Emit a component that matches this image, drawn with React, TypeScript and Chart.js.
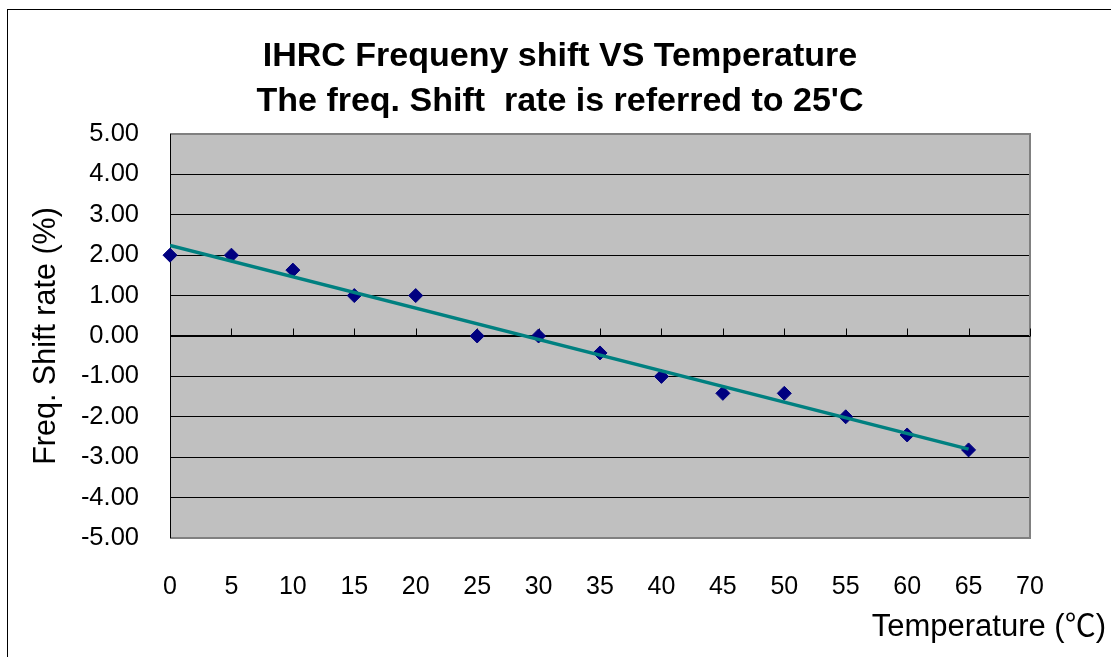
import React, { useEffect, useRef } from 'react';
import { Chart, registerables } from 'chart.js';

Chart.register(...registerables);

const titleLines = ['IHRC Frequeny shift VS Temperature', "The freq. Shift  rate is referred to 25'C"];
const yAxisTitle = 'Freq. Shift rate (%)';
const xAxisTitle = 'Temperature (\u2103)';

const temperatures = [0, 5, 10, 15, 20, 25, 30, 35, 40, 45, 50, 55, 60, 65];
const shiftRates = [2.0, 2.0, 1.63, 1.0, 1.0, 0.0, 0.0, -0.42, -1.0, -1.42, -1.42, -2.0, -2.45, -2.82];

const trendX = [0, 65];
const trendY = [2.24, -2.8];

const xMin = 0;
const xMax = 70;
const xStep = 5;
const yMin = -5;
const yMax = 5;
const yStep = 1;

const FONT = "'Liberation Sans', Arial, sans-serif";

export default function App() {
  const ref = useRef<HTMLCanvasElement>(null);

  useEffect(() => {
    const canvas = ref.current;
    if (!canvas) return;

    const plotPlugin = {
      id: 'plotDecor',
      beforeDraw(chart: any) {
        const { ctx, chartArea: a } = chart;
        ctx.save();
        ctx.fillStyle = '#C0C0C0';
        ctx.fillRect(a.left, a.top, a.right - a.left, a.bottom - a.top);
        ctx.restore();
      },
      beforeDatasetsDraw(chart: any) {
        const { ctx, chartArea: a, scales } = chart;
        ctx.save();
        ctx.strokeStyle = '#808080';
        ctx.lineWidth = 2;
        ctx.beginPath();
        ctx.moveTo(a.left, a.top);
        ctx.lineTo(a.right, a.top);
        ctx.lineTo(a.right, a.bottom);
        ctx.lineTo(a.left, a.bottom);
        ctx.stroke();
        ctx.strokeStyle = '#000';
        ctx.lineWidth = 1;
        ctx.beginPath();
        const lx = Math.round(a.left) + 0.5;
        ctx.moveTo(lx, a.top);
        ctx.lineTo(lx, a.bottom);
        const y0 = Math.round(scales.y.getPixelForValue(0)) + 0.5;
        ctx.moveTo(a.left, y0);
        ctx.lineTo(a.right, y0);
        scales.x.ticks.forEach((t: any) => {
          const px = Math.round(scales.x.getPixelForValue(t.value)) + 0.5;
          ctx.moveTo(px, y0 - 8);
          ctx.lineTo(px, y0);
        });
        ctx.stroke();
        ctx.restore();
      },
      afterDraw(chart: any) {
        const { ctx } = chart;
        ctx.save();
        ctx.fillStyle = '#000';
        ctx.font = "31px 'Liberation Sans', Arial, 'Noto Sans CJK TC', sans-serif";
        ctx.textAlign = 'right';
        ctx.textBaseline = 'alphabetic';
        ctx.fillText(xAxisTitle, 1106, 636);
        ctx.restore();
      },
    };

    const chart = new Chart(canvas, {
      type: 'scatter',
      data: {
        datasets: [
          {
            label: 'trend',
            data: trendX.map((x, i) => ({ x, y: trendY[i] })),
            showLine: true,
            borderColor: '#008080',
            borderWidth: 3.5,
            pointRadius: 0,
            order: 0,
          },
          {
            label: 'shift',
            data: temperatures.map((x, i) => ({ x, y: shiftRates[i] })),
            showLine: false,
            pointStyle: 'rectRot',
            pointRadius: 7,
            pointBorderWidth: 1,
            pointBackgroundColor: '#000080',
            pointBorderColor: '#000080',
            clip: false,
            order: 1,
          },
        ],
      },
      options: {
        animation: false,
        responsive: false,
        devicePixelRatio: 1,
        layout: { padding: { left: 9, right: 0, top: 0, bottom: 0 } },
        plugins: {
          legend: { display: false },
          tooltip: { enabled: false },
          title: {
            display: true,
            text: titleLines,
            color: '#000',
            font: { family: FONT, size: 34, weight: 'bold', lineHeight: 1.32 },
            padding: { top: 34.5, bottom: 9.7 },
          },
        },
        scales: {
          x: {
            type: 'linear',
            position: 'bottom',
            min: xMin,
            max: xMax,
            grid: { display: false, drawTicks: false },
            border: { display: false },
            ticks: {
              stepSize: xStep,
              color: '#000',
              padding: 34,
              font: { family: FONT, size: 25 },
              maxRotation: 0,
              autoSkip: false,
            },
            afterFit(s: any) {
              s.height = 119;
            },
          },
          y: {
            type: 'linear',
            position: 'left',
            min: yMin,
            max: yMax,
            grid: {
              drawTicks: false,
              color: (c: any) => (c.tick && (c.tick.value === yMax || c.tick.value === yMin) ? 'rgba(0,0,0,0)' : '#000'),
              lineWidth: 1,
            },
            border: { display: false },
            ticks: {
              stepSize: yStep,
              color: '#000',
              padding: 31,
              font: { family: FONT, size: 25.5 },
              callback: (v: any) => Number(v).toFixed(2),
            },
            title: {
              display: true,
              text: yAxisTitle,
              color: '#000',
              font: { family: FONT, size: 30.5 },
              padding: { top: 19, bottom: 0 },
            },
            afterFit(s: any) {
              s.width = 161;
            },
          },
          y2: {
            type: 'linear',
            position: 'right',
            display: true,
            grid: { display: false, drawTicks: false },
            border: { display: false },
            ticks: { display: false },
            afterFit(s: any) {
              s.width = 81;
            },
          },
        },
      },
      plugins: [plotPlugin],
    } as any);

    return () => chart.destroy();
  }, []);

  return (
    <div style={{ position: 'fixed', left: 0, top: 0, width: 1111, height: 657, background: '#fff', overflow: 'hidden' }}>
      <div
        style={{
          position: 'absolute',
          left: 7,
          top: 9,
          width: 2000,
          height: 2000,
          borderLeft: '1px solid #000',
          borderTop: '1px solid #000',
        }}
      />
      <canvas ref={ref} width={1111} height={657} style={{ position: 'absolute', left: 0, top: 0, width: 1111, height: 657 }} />
    </div>
  );
}
